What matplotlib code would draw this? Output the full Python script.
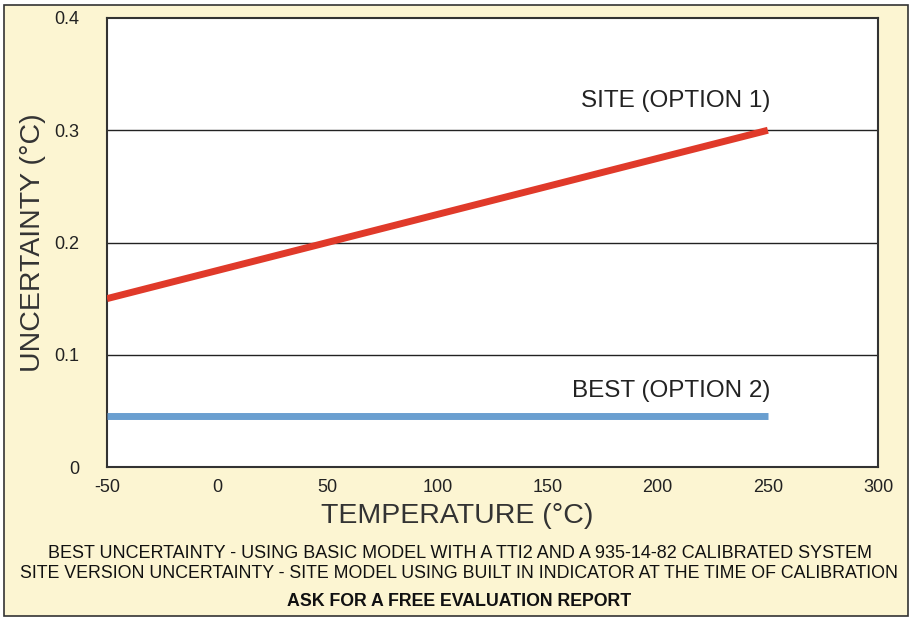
import matplotlib.pyplot as plt
from matplotlib.patches import Rectangle

# data
site_temp = [-50, 250]
site_unc = [0.15, 0.30]
best_temp = [-50, 250]
best_unc = [0.045, 0.045]
x_ticks = [-50, 0, 50, 100, 150, 200, 250, 300]
y_ticks = [0, 0.1, 0.2, 0.3, 0.4]
y_tick_labels = ['0', '0.1', '0.2', '0.3', '0.4']

footer = [
    'BEST UNCERTAINTY - USING BASIC MODEL WITH A TTI2 AND A 935-14-82 CALIBRATED SYSTEM',
    'SITE VERSION UNCERTAINTY - SITE MODEL USING BUILT IN INDICATOR AT THE TIME OF CALIBRATION',
    'ASK FOR A FREE EVALUATION REPORT',
]

plt.rcParams['font.family'] = ['Liberation Sans', 'DejaVu Sans']

W, H = 910, 619
fig = plt.figure(figsize=(W / 100, H / 100), dpi=100, facecolor='white')

# yellow panel with dark border, behind the axes
fig.patches.append(Rectangle((4 / W, 3 / H), 904 / W, 611 / H, transform=fig.transFigure,
                             facecolor='#fcf5d2', edgecolor='#333333', linewidth=1.2, zorder=-10))

ax = fig.add_axes([107 / W, 1 - 467 / H, 771 / W, 449 / H])
ax.set_zorder(5)
ax.set_facecolor('white')
ax.set_xlim(-50, 300)
ax.set_ylim(0, 0.4)

for y in y_ticks[1:-1]:
    ax.axhline(y, color='#222222', linewidth=1.0, zorder=1)

ax.plot(site_temp, site_unc, color='#e03a2a', linewidth=5, solid_capstyle='butt', zorder=3)
ax.plot(best_temp, best_unc, color='#6a9fd0', linewidth=5, solid_capstyle='butt', zorder=3)

ax.text(208, 0.326, 'SITE (OPTION 1)', fontsize=17.5, color='#222222', ha='center', va='center')
ax.text(206, 0.068, 'BEST (OPTION 2)', fontsize=17.5, color='#222222', ha='center', va='center')

ax.set_xticks(x_ticks)
ax.set_xticklabels([str(t) for t in x_ticks], fontsize=13, color='#222222')
ax.set_yticks(y_ticks)
ax.set_yticklabels(y_tick_labels, fontsize=13, color='#222222')
ax.tick_params(length=0, pad=9)
ax.tick_params(axis='y', pad=20)

for s in ax.spines.values():
    s.set_color('#333333')
    s.set_linewidth(1.5)

ax.set_xlabel('TEMPERATURE (°C)', fontsize=20.5, color='#333333')
ax.xaxis.set_label_coords(0.454, -0.125)
ax.xaxis.label.set_va('baseline')
ax.set_ylabel('UNCERTAINTY (°C)', fontsize=20.5, color='#333333', labelpad=6)

fig.text(0.505, 1 - 554 / H, footer[0], fontsize=13, ha='center', va='center', color='#111111')
fig.text(0.504, 1 - 574 / H, footer[1], fontsize=12.8, ha='center', va='center', color='#111111')
fig.text(0.505, 1 - 601 / H, footer[2], fontsize=12.8, ha='center', va='center', color='#111111',
         fontweight='bold')

fig.savefig('out.png', dpi=100, facecolor=fig.get_facecolor())
